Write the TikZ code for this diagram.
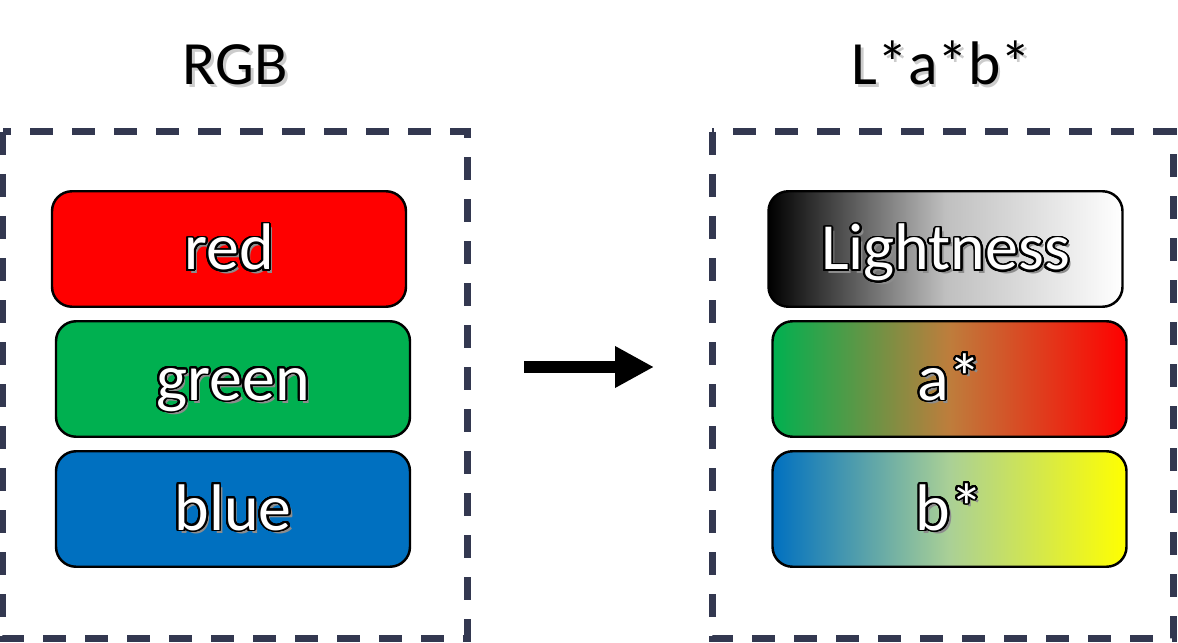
\documentclass[tikz,border=0pt]{standalone}
\usepackage{fontspec}
\setmainfont{Carlito}
\usepackage[copies]{contour}
\usepackage{tikz}
\usetikzlibrary{arrows.meta}
\definecolor{frameslate}{RGB}{51, 56, 80}
\definecolor{boxred}{RGB}{255, 0, 0}
\definecolor{boxgreen}{RGB}{0, 176, 80}
\definecolor{boxblue}{RGB}{0, 112, 192}
\definecolor{boxyellow}{RGB}{255, 255, 0}
\definecolor{midbrown}{RGB}{190, 125, 60}
\definecolor{midsage}{RGB}{170, 208, 150}
\contourlength{1.1pt}
\contournumber{32}
\newcommand{\boxlabel}[1]{\rlap{\hspace{2pt}\raisebox{-2pt}{\textcolor{black!45}{#1}}}\contour{black}{\color{white}#1}}
\newcommand{\titletext}[1]{\rlap{\hspace{1.5pt}\raisebox{-1.5pt}{\textcolor{black!20}{#1}}}#1}

\begin{document}
\begin{tikzpicture}[
    colorbox/.style={draw=black, line width=1.4pt, rounded corners=0.4cm, minimum width=7.08cm, minimum height=2.31cm, text height=1.0cm, text depth=0.16cm, font=\fontsize{37.5}{40}\selectfont},
    groupframe/.style={draw=frameslate, line width=0.14cm, dash pattern=on 0.46cm off 0.38cm},
    title/.style={anchor=base, font=\fontsize{35}{40}\selectfont}]
    \useasboundingbox (0,0) rectangle (23.56,12.84);
    \draw[groupframe] (0.06,10.2) rectangle (9.34,0.08);
    \draw[groupframe] (14.24,10.2) rectangle (23.46,0.08);
    \node[title] (rgbtitle) at (4.71,11.14) {\titletext{RGB}};
    \node[title] (labtitle) at (18.83,11.14) {\titletext{L*a*b*}};
    \node[colorbox, fill=boxred] (redbox) at (4.58,7.86) {\boxlabel{red}};
    \node[colorbox, fill=boxgreen] (greenbox) at (4.66,5.26) {\boxlabel{green}};
    \node[colorbox, fill=boxblue] (bluebox) at (4.66,2.66) {\boxlabel{blue}};
    \node[colorbox, left color=black, right color=white, middle color=black!25] (lightbox) at (18.91,7.86) {\boxlabel{Lightness}};
    \node[colorbox, left color=boxgreen, right color=boxred, middle color=midbrown] (abox) at (18.99,5.26) {\boxlabel{a*}};
    \node[colorbox, left color=boxblue, right color=boxyellow, middle color=midsage] (bbox) at (18.99,2.66) {\boxlabel{b*}};
    \coordinate (arrowtail) at (10.48,5.5);
    \coordinate (arrowtip) at (13.08,5.5);
    \draw[line width=0.24cm, -{Triangle[length=0.78cm, width=0.78cm]}] (arrowtail) -- (arrowtip);
\end{tikzpicture}
\end{document}
